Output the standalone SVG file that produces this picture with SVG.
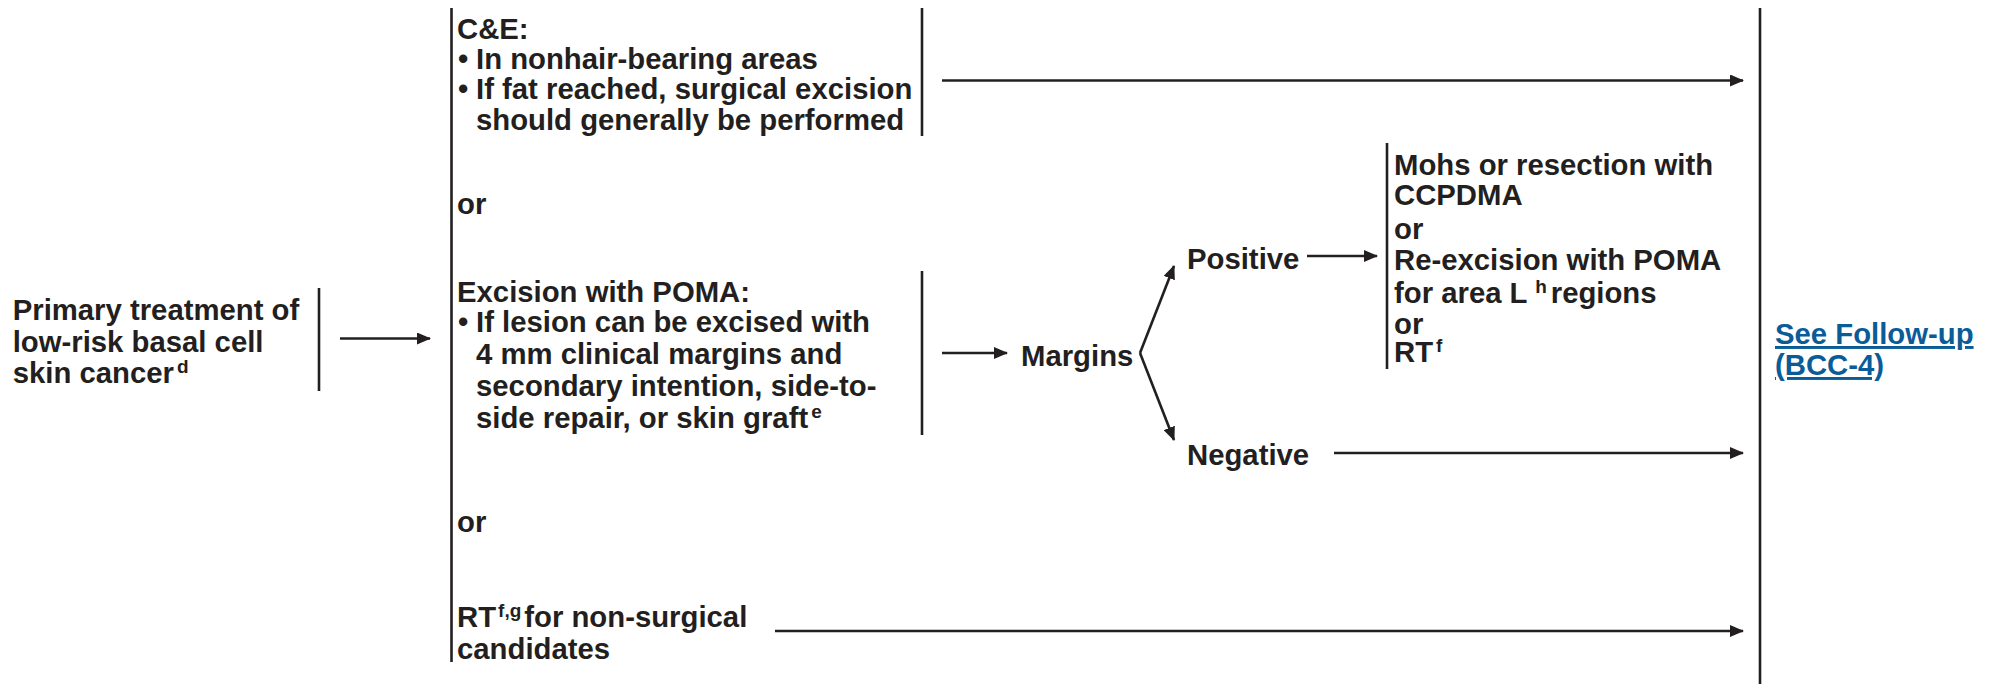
<svg xmlns="http://www.w3.org/2000/svg" width="1991" height="684" viewBox="0 0 1991 684">
<defs>
<style>
.t{font-family:"Liberation Sans",Arial,Helvetica,sans-serif;font-weight:bold;font-size:29.3px;fill:#231f20}
.sup{font-size:19px}
.link{fill:#0a5c99;text-decoration:underline}
.bar{stroke:#231f20;stroke-width:2.6;fill:none}
.ar{stroke:#231f20;stroke-width:2.6;fill:none;marker-end:url(#ah)}
</style>
<marker id="ah" markerUnits="userSpaceOnUse" markerWidth="14" markerHeight="12" refX="13" refY="6" orient="auto">
<path d="M0,0 L14,6 L0,12 z" fill="#231f20"/>
</marker>
</defs>
<rect width="1991" height="684" fill="#ffffff"/>

<g id="primary">
<text class="t" x="12.7" y="320">Primary treatment of</text>
<text class="t" x="12.7" y="352">low-risk basal cell</text>
<text class="t" x="12.7" y="383">skin cancer<tspan class="sup" dx="3" dy="-10">d</tspan></text>
<line class="bar" x1="319" y1="288" x2="319" y2="391"/>
</g>

<g id="options">
<line class="bar" x1="451.5" y1="8" x2="451.5" y2="662"/>
</g>

<g id="ce">
<text class="t" x="457" y="38.5">C&amp;E:</text>
<text class="t" x="458" y="69">•</text>
<text class="t" x="476" y="69">In nonhair-bearing areas</text>
<text class="t" x="458" y="99">•</text>
<text class="t" x="476" y="99">If fat reached, surgical excision</text>
<text class="t" x="476" y="130">should generally be performed</text>
<line class="bar" x1="922" y1="8" x2="922" y2="136"/>
</g>

<g id="or1">
<text class="t" x="457" y="213.5">or</text>
</g>

<g id="excision">
<text class="t" x="457" y="302">Excision with POMA:</text>
<text class="t" x="458" y="332">•</text>
<text class="t" x="476" y="332">If lesion can be excised with</text>
<text class="t" x="476" y="364">4 mm clinical margins and</text>
<text class="t" x="476" y="396">secondary intention, side-to-</text>
<text class="t" x="476" y="427.5">side repair, or skin graft<tspan class="sup" dx="3" dy="-10">e</tspan></text>
<line class="bar" x1="922" y1="271" x2="922" y2="435"/>
</g>

<g id="or2">
<text class="t" x="457" y="532">or</text>
</g>

<g id="rt">
<text class="t" x="457" y="627">RT<tspan class="sup" dx="2" dy="-10">f,g</tspan><tspan dx="3" dy="10">for non-surgical</tspan></text>
<text class="t" x="457" y="658.5">candidates</text>
</g>

<g id="margins">
<text class="t" x="1021" y="366">Margins</text>
</g>

<g id="positive">
<text class="t" x="1187" y="269">Positive</text>
</g>

<g id="negative">
<text class="t" x="1187" y="465">Negative</text>
</g>

<g id="positive-options">
<line class="bar" x1="1387" y1="143" x2="1387" y2="369"/>
<text class="t" x="1394" y="175">Mohs or resection with</text>
<text class="t" x="1394" y="205">CCPDMA</text>
<text class="t" x="1394" y="239">or</text>
<text class="t" x="1394" y="270">Re-excision with POMA</text>
<text class="t" x="1394" y="303">for area L <tspan class="sup" dy="-10">h</tspan><tspan dx="4" dy="10">regions</tspan></text>
<text class="t" x="1394" y="334">or</text>
<text class="t" x="1394" y="362">RT<tspan class="sup" dx="3" dy="-10">f</tspan></text>
</g>

<g id="followup">
<line class="bar" x1="1760" y1="8" x2="1760" y2="684"/>
<text class="t link" x="1775" y="344">See Follow-up</text>
<text class="t link" x="1775" y="375">(BCC-4)</text>
</g>

<g id="connectors">
<line class="ar" x1="340" y1="338.5" x2="430" y2="338.5"/>
<line class="ar" x1="942" y1="80.5" x2="1743" y2="80.5"/>
<line class="ar" x1="942" y1="353" x2="1007" y2="353"/>
<line class="ar" x1="1140" y1="353" x2="1174" y2="266"/>
<line class="ar" x1="1140" y1="353" x2="1174" y2="440"/>
<line class="ar" x1="1307" y1="256" x2="1377" y2="256"/>
<line class="ar" x1="1334" y1="453" x2="1743" y2="453"/>
<line class="ar" x1="775" y1="631" x2="1743" y2="631"/>
</g>
</svg>
